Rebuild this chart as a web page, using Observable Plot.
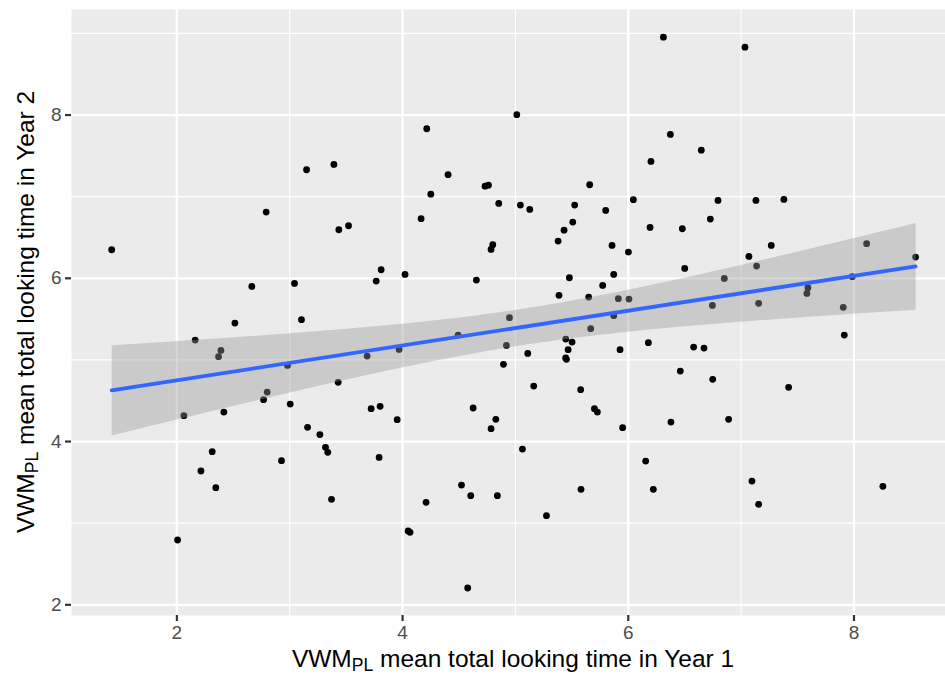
<!DOCTYPE html>
<html>
<head>
<meta charset="utf-8">
<script src="https://cdn.jsdelivr.net/npm/d3@7"></script>
<script src="https://cdn.jsdelivr.net/npm/@observablehq/plot@0.6"></script>
<style>
  html, body { margin: 0; padding: 0; background: #ffffff; overflow: hidden; }
</style>
</head>
<body>
<div id="chart"></div>
<script>
// Mean total looking time (VWM_PL) per child, Year 1 vs Year 2
const year1 = [
  3.149, 3.391, 2.791, 6.311, 5.012, 4.214, 6.201, 4.403, 4.250, 4.731,
  4.761, 5.658, 4.852, 5.044, 5.127, 5.525, 5.800, 6.045, 7.034, 6.373,
  6.647, 6.795, 7.131, 7.379, 1.422, 3.435, 3.521, 2.664, 3.042, 2.514,
  3.104, 2.162, 2.390, 2.369, 3.686, 2.980, 3.429, 2.800, 2.768, 3.004,
  3.721, 2.062, 2.416, 4.164, 5.508, 5.431, 5.378, 6.193, 5.856, 6.001,
  4.799, 4.784, 3.810, 3.766, 4.022, 4.654, 5.478, 5.871, 5.773, 5.386,
  5.649, 5.912, 6.006, 5.871, 4.947, 5.667, 4.492, 5.446, 5.502, 5.467,
  5.927, 6.178, 3.969, 4.920, 5.109, 5.452, 5.445, 4.894, 5.162, 5.578,
  3.801, 4.625, 5.700, 5.726, 6.479, 6.727, 7.267, 7.069, 7.137, 6.500,
  6.851, 8.112, 8.546, 7.985, 7.592, 7.583, 6.745, 7.155, 7.905, 7.914,
  6.579, 6.671, 6.461, 6.748, 7.421, 3.158, 3.267, 3.317, 3.337, 2.313,
  2.927, 2.213, 2.345, 3.370, 2.006, 3.952, 4.826, 4.784, 5.950, 5.062,
  3.792, 6.154, 4.522, 4.604, 4.840, 4.208, 5.581, 6.222, 5.275, 4.049,
  4.066, 4.577, 6.378, 6.889, 7.096, 7.155, 8.256
];
const year2 = [
  7.330, 7.395, 6.811, 8.954, 8.004, 7.832, 7.432, 7.269, 7.031, 7.129,
  7.141, 7.146, 6.917, 6.897, 6.844, 6.897, 6.832, 6.963, 8.832, 7.762,
  7.570, 6.954, 6.954, 6.966, 6.350, 6.595, 6.644, 5.901, 5.937, 5.451,
  5.493, 5.243, 5.117, 5.040, 5.047, 4.933, 4.725, 4.606, 4.513, 4.459,
  4.403, 4.317, 4.361, 6.730, 6.689, 6.590, 6.456, 6.623, 6.403, 6.321,
  6.412, 6.354, 6.105, 5.966, 6.048, 5.978, 6.007, 6.048, 5.913, 5.791,
  5.770, 5.750, 5.745, 5.542, 5.517, 5.383, 5.305, 5.255, 5.219, 5.126,
  5.126, 5.211, 5.129, 5.178, 5.080, 5.007, 5.025, 4.946, 4.680, 4.636,
  4.431, 4.411, 4.403, 4.361, 6.607, 6.725, 6.403, 6.268, 6.150, 6.121,
  5.999, 6.424, 6.260, 6.020, 5.885, 5.815, 5.668, 5.693, 5.644, 5.305,
  5.157, 5.145, 4.864, 4.762, 4.664, 4.174, 4.085, 3.929, 3.868, 3.876,
  3.766, 3.639, 3.435, 3.292, 2.794, 4.268, 4.272, 4.158, 4.170, 3.908,
  3.806, 3.761, 3.467, 3.337, 3.337, 3.255, 3.415, 3.415, 3.092, 2.904,
  2.888, 2.206, 4.239, 4.272, 3.516, 3.231, 3.451
];

const xTicks = [2, 4, 6, 8];
const yTicks = [2, 4, 6, 8];
const xMinor = [1, 3, 5, 7];
const yMinor = [3, 5, 7, 9];

const rows = year1.map((x, i) => ({ year1: x, year2: year2[i] }));

const chart = Plot.plot({
  width: 945,
  height: 675,
  marginTop: 9,
  marginLeft: 71,
  marginRight: 0,
  marginBottom: 60,
  x: { domain: [1.066, 8.811] },
  y: { domain: [1.869, 9.293] },
  style: { fontFamily: "'Liberation Sans', Arial, sans-serif", background: "#ffffff" },
  marks: [
    Plot.frame({ fill: "#EBEBEB", stroke: null }),
    Plot.gridX(xMinor, { stroke: "#ffffff", strokeOpacity: 1, strokeWidth: 1.2 }),
    Plot.gridY(yMinor, { stroke: "#ffffff", strokeOpacity: 1, strokeWidth: 1.2 }),
    Plot.gridX(xTicks, { stroke: "#ffffff", strokeOpacity: 1, strokeWidth: 2.3 }),
    Plot.gridY(yTicks, { stroke: "#ffffff", strokeOpacity: 1, strokeWidth: 2.3 }),
    Plot.dot(rows, { x: "year1", y: "year2", r: 3.4, fill: "#000000", stroke: null }),
    Plot.linearRegressionY(rows, {
      x: "year1", y: "year2", ci: 0.95,
      stroke: "#3366FF", strokeWidth: 3.8,
      fill: "#999999", fillOpacity: 0.4
    }),
    Plot.axisX(xTicks, {
      tickSize: 6, tickPadding: 4, strokeWidth: 2.2, stroke: "#333333",
      fill: "#4D4D4D", fontSize: 19, label: null, tickFormat: d => String(d)
    }),
    Plot.axisY(yTicks, {
      tickSize: 6, tickPadding: 4, strokeWidth: 2.2, stroke: "#333333",
      fill: "#4D4D4D", fontSize: 19, label: null, tickFormat: d => String(d)
    })
  ]
});

document.getElementById("chart").appendChild(chart);

// Axis titles with a subscripted "PL"
const svg = d3.select(chart);
function title(sel, year) {
  sel.attr("text-anchor", "middle")
    .attr("font-size", 24.5)
    .attr("fill", "#000000")
    .attr("font-family", "'Liberation Sans', Arial, sans-serif");
  sel.append("tspan").text("VWM");
  sel.append("tspan").attr("font-size", 17.5).attr("dy", 4).text("PL");
  sel.append("tspan").attr("dy", -4).text(` mean total looking time in Year ${year}`);
}
title(svg.append("text").attr("x", 513).attr("y", 667), 1);
title(svg.append("text").attr("transform", "rotate(-90)").attr("x", -312).attr("y", 34), 2);
</script>
</body>
</html>
